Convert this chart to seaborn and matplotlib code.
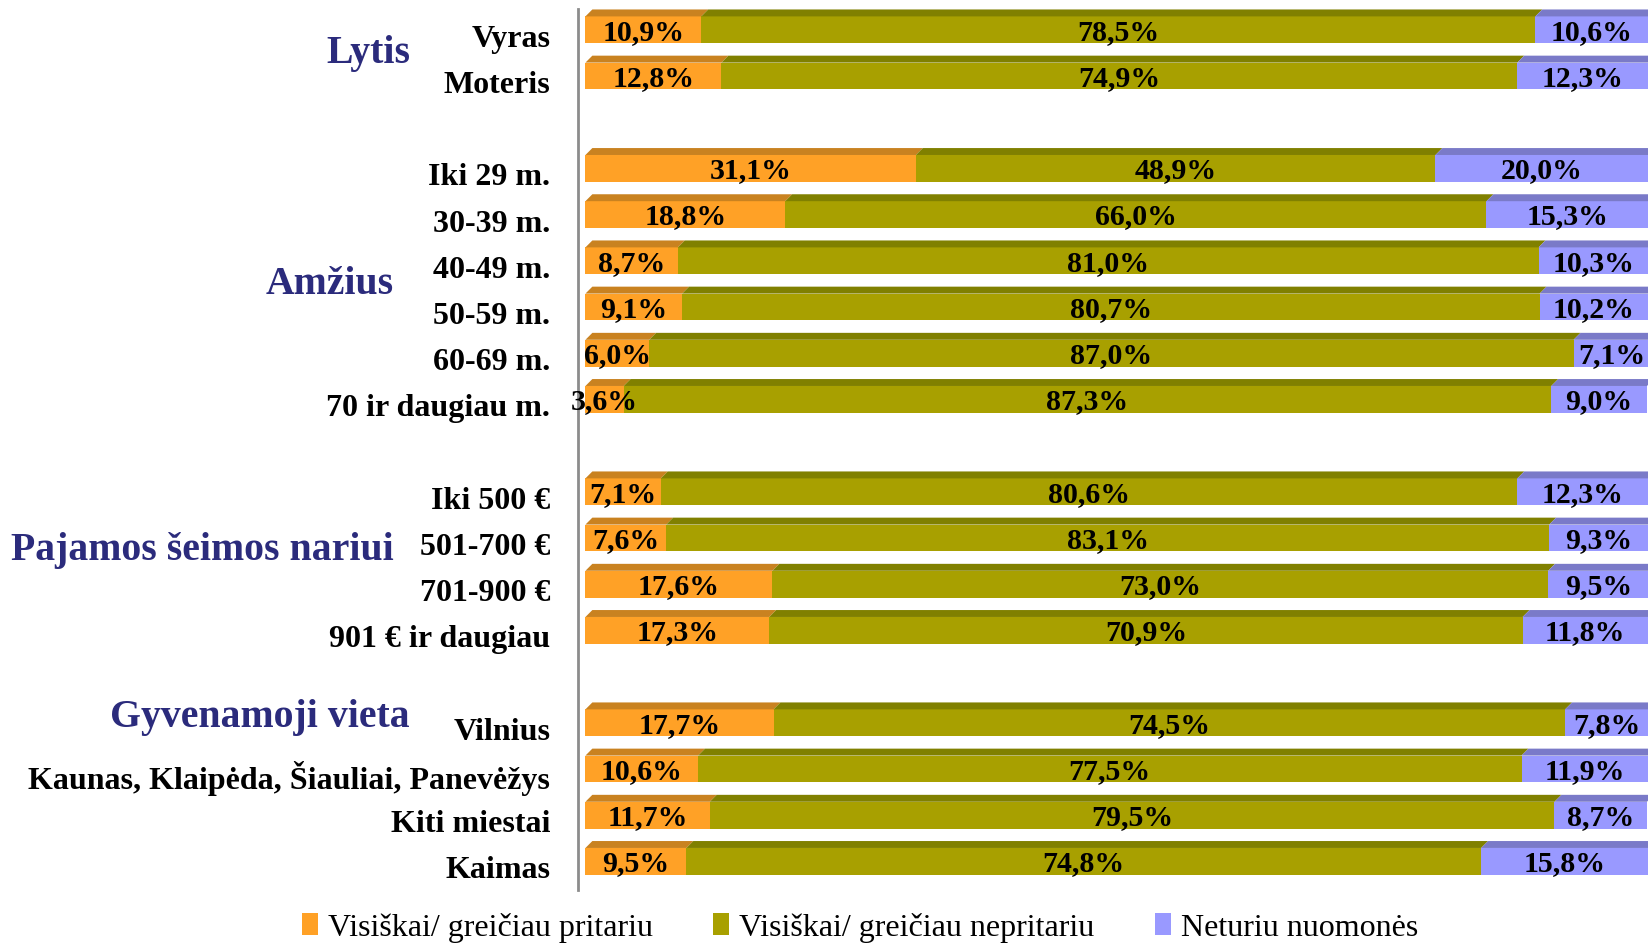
import numpy as np
import pandas as pd
import matplotlib
matplotlib.use("Agg")
import matplotlib.pyplot as plt
import matplotlib.transforms as mtransforms
from matplotlib.patches import Polygon, Patch
import seaborn as sns

# --- data ---
groups = ["Lytis", "Amžius", "Pajamos šeimos nariui", "Gyvenamoji vieta"]
group_sizes = [2, 6, 4, 4]
labels = ["Vyras", "Moteris",
          "Iki 29 m.", "30-39 m.", "40-49 m.", "50-59 m.", "60-69 m.", "70 ir daugiau m.",
          "Iki 500 €", "501-700 €", "701-900 €", "901 € ir daugiau",
          "Vilnius", "Kaunas, Klaipėda, Šiauliai, Panevėžys", "Kiti miestai", "Kaimas"]
pritariu = [10.9, 12.8, 31.1, 18.8, 8.7, 9.1, 6.0, 3.6, 7.1, 7.6, 17.6, 17.3, 17.7, 10.6, 11.7, 9.5]
nepritariu = [78.5, 74.9, 48.9, 66.0, 81.0, 80.7, 87.0, 87.3, 80.6, 83.1, 73.0, 70.9, 74.5, 77.5, 79.5, 74.8]
neturiu = [10.6, 12.3, 20.0, 15.3, 10.3, 10.2, 7.1, 9.0, 12.3, 9.3, 9.5, 11.8, 7.8, 11.9, 8.7, 15.8]
series_names = ["Visiškai/ greičiau pritariu", "Visiškai/ greičiau nepritariu", "Neturiu nuomonės"]

colors = ["#FFA126", "#A8A000", "#9999FF"]
top_colors = ["#C98220", "#808000", "#7A7AC8"]
navy = "#2B2B7C"

# order with blank spacer rows between groups
order = []
idx = 0
for gi, n in enumerate(group_sizes):
    if gi > 0:
        order.append(" " * gi)
    order.extend(labels[idx:idx + n])
    idx += n

df = pd.DataFrame({"label": labels, "p": pritariu, "n": nepritariu, "t": neturiu})
df["c1"] = df["p"]
df["c2"] = df["p"] + df["n"]
df["c3"] = df["c2"] + df["t"]

sns.set_style("white")
plt.rcParams["font.family"] = ["Liberation Serif", "DejaVu Serif"]

fig = plt.figure(figsize=(16.48, 9.45), dpi=100)
ax = fig.add_axes([578 / 1648, 1 - 891 / 945, 1 - 578 / 1648, (891 - 10) / 945])

bw = 0.58
for col, c in zip(["c3", "c2", "c1"], colors[::-1]):
    sns.barplot(data=df, x=col, y="label", order=order, orient="h", color=c,
                width=bw, saturation=1, linewidth=0, ax=ax)

# 3D top faces
dx, dy = 0.65, 0.15
pos = {lab: order.index(lab) for lab in labels}
for _, r in df.iterrows():
    y0 = pos[r["label"]] - bw / 2
    edges = [0, r["c1"], r["c2"], r["c3"]]
    for k in range(3):
        x0, x1 = edges[k], edges[k + 1]
        poly = Polygon([(x0, y0), (x1, y0), (x1 + dx, y0 - dy), (x0 + dx, y0 - dy)],
                       closed=True, facecolor=top_colors[k], edgecolor="none")
        ax.add_patch(poly)
    for k, v in enumerate([r["p"], r["n"], r["t"]]):
        xc = (edges[k] + edges[k + 1]) / 2
        ax.text(xc, pos[r["label"]] + 0.03, f"{v:.1f}".replace(".", ",") + "%",
                ha="center", va="center", fontsize=21.5, fontweight="bold", color="black")

ax.set_xlim(-0.7, 100)
ax.set_ylim(18.62, -0.45)
ax.set_xlabel("")
ax.set_ylabel("")
ax.set_xticks([])
ax.set_yticks(range(len(order)))
ax.set_yticklabels([o if o.strip() else "" for o in order], fontsize=23,
                   fontweight="bold", color="black")
ax.tick_params(axis="y", length=0, pad=20)
offset = mtransforms.ScaledTranslation(0, -5 / 100, fig.dpi_scale_trans)
for lbl in ax.get_yticklabels():
    lbl.set_transform(lbl.get_transform() + offset)
for s in ["top", "right", "bottom"]:
    ax.spines[s].set_visible(False)
ax.spines["left"].set_color("#8C8C8C")
ax.spines["left"].set_linewidth(2)

# group labels
tr = mtransforms.blended_transform_factory(fig.transFigure, ax.transData)
group_pos = [(410, 0.5), (394, 5.5), (394, 11.25), (410, 14.87)]
for name, (xp, yp) in zip(groups, group_pos):
    fig.text(xp / 1648, yp, name, transform=tr, ha="right", va="center",
             fontsize=28.6, fontweight="bold", color=navy)

handles = [Patch(facecolor=c, edgecolor="none") for c in colors]
fig.legend(handles, series_names, loc="center", bbox_to_anchor=(860 / 1648, 1 - 928 / 945),
           ncol=3, frameon=False, fontsize=23, handlelength=0.5, handleheight=0.7,
           handletextpad=0.3, columnspacing=1.9, labelcolor="black")

fig.savefig("out.png", dpi=100)
